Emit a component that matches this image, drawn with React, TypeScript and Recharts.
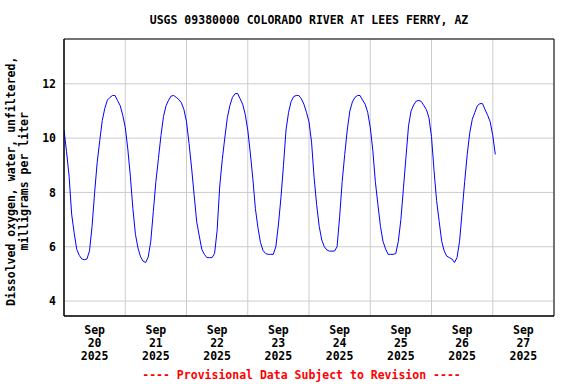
import React from 'react';
import { LineChart, Line, XAxis, YAxis, CartesianGrid, ReferenceArea } from 'recharts';

// Hourly dissolved oxygen values (mg/L), one array per day, starting at 00:00
const sep20 = [10.3, 9.5, 8.6, 7.2, 6.5, 5.9, 5.68, 5.55, 5.52, 5.55, 5.85, 6.75, 8.0, 9.1, 9.9, 10.65, 11.1, 11.4, 11.5, 11.57, 11.57, 11.38, 11.2, 10.85];
const sep21 = [10.4, 9.6, 8.6, 7.4, 6.45, 5.95, 5.63, 5.47, 5.42, 5.62, 6.2, 7.3, 8.4, 9.25, 10.1, 10.8, 11.2, 11.4, 11.55, 11.57, 11.5, 11.42, 11.3, 11.05];
const sep22 = [10.6, 9.8, 8.9, 7.9, 6.92, 6.4, 5.9, 5.72, 5.6, 5.6, 5.6, 5.75, 6.6, 8.2, 9.2, 10.0, 10.75, 11.2, 11.5, 11.63, 11.65, 11.45, 11.25, 10.88];
const sep23 = [10.3, 9.45, 8.5, 7.4, 6.7, 6.15, 5.86, 5.75, 5.72, 5.72, 5.72, 6.0, 6.8, 7.8, 9.0, 10.3, 10.95, 11.35, 11.53, 11.57, 11.57, 11.45, 11.25, 10.95];
const sep24 = [10.6, 9.85, 8.55, 7.55, 6.75, 6.25, 6.0, 5.88, 5.84, 5.84, 5.84, 6.0, 7.1, 8.4, 9.4, 10.3, 11.0, 11.33, 11.5, 11.57, 11.57, 11.4, 11.25, 10.95];
const sep25 = [10.4, 9.55, 8.4, 7.55, 6.75, 6.2, 5.92, 5.72, 5.72, 5.72, 5.75, 6.2, 7.0, 8.15, 9.3, 10.45, 11.0, 11.22, 11.36, 11.39, 11.35, 11.2, 11.05, 10.75];
const sep26 = [10.05, 8.8, 7.7, 6.94, 6.2, 5.84, 5.65, 5.6, 5.55, 5.42, 5.6, 6.2, 7.3, 8.4, 9.4, 10.2, 10.7, 10.95, 11.2, 11.27, 11.27, 11.05, 10.84, 10.6];
const sep27 = [10.1, 9.4];

const dailySeries = [sep20, sep21, sep22, sep23, sep24, sep25, sep26, sep27];
const dayLabels = ['20', '21', '22', '23', '24', '25', '26', '27'];
const monthLabel = 'Sep';
const yearLabel = '2025';
const yTicks = [4, 6, 8, 10, 12];
const yDomain = [3.45, 13.65];
const xDomain = [0, 192];

const labelTicks = dayLabels.map((_, i) => i * 24 + 12);
const midnightTicks = [0, 24, 48, 72, 96, 120, 144, 168, 192];

const data = dailySeries.flatMap((vals, d) => vals.map((v, i) => ({ hour: d * 24 + i, value: v })));

const FONT = '"DejaVu Sans Mono", "Liberation Mono", monospace';

const DateTick = (props: any) => {
  const { x, y, payload } = props;
  const idx = Math.round((payload.value - 12) / 24);
  return (
    <text x={x} y={y} textAnchor="middle" fontFamily={FONT} fontWeight="bold" fontSize={11.5} fill="#000">
      <tspan x={x} dy={18}>{monthLabel}</tspan>
      <tspan x={x} dy={13}>{dayLabels[idx]}</tspan>
      <tspan x={x} dy={13}>{yearLabel}</tspan>
    </text>
  );
};

export default function App() {
  return (
    <div style={{ position: 'absolute', left: 0, top: 0, width: 576, height: 384, background: '#fff' }}>
      <LineChart width={576} height={384} data={data} margin={{ top: 39, right: 22, bottom: 18, left: 4 }}>
        <XAxis xAxisId="grid" dataKey="hour" type="number" domain={xDomain} ticks={midnightTicks} hide />
        <CartesianGrid xAxisId="grid" stroke="#cccccc" strokeWidth={1} />
        <XAxis
          dataKey="hour"
          type="number"
          domain={xDomain}
          ticks={labelTicks}
          interval={0}
          tick={<DateTick />}
          tickLine={false}
          tickSize={0}
          tickMargin={0}
          height={50}
          axisLine={{ stroke: '#000' }}
          allowDataOverflow
        />
        <YAxis
          type="number"
          domain={yDomain}
          ticks={yTicks}
          interval={0}
          allowDataOverflow
          tickLine={false}
          tickSize={0}
          tickMargin={8}
          width={60}
          axisLine={{ stroke: '#000' }}
          tick={{ fontFamily: FONT, fontWeight: 'bold', fontSize: 11.5, fill: '#000' }}
        />
        <Line
          type="linear"
          dataKey="value"
          stroke="#0000ff"
          strokeWidth={1}
          dot={false}
          isAnimationActive={false}
        />
        <ReferenceArea
          x1={xDomain[0]}
          x2={xDomain[1]}
          y1={yDomain[0]}
          y2={yDomain[1]}
          fill="none"
          fillOpacity={0}
          stroke="#000"
          strokeWidth={1}
          ifOverflow="visible"
        />
      </LineChart>
      <div
        style={{
          position: 'absolute', left: 0, top: 13, width: 618, textAlign: 'center',
          fontFamily: FONT, fontWeight: 'bold', fontSize: 11.5, lineHeight: '14px', color: '#000',
          whiteSpace: 'nowrap',
        }}
      >
        USGS 09380000 COLORADO RIVER AT LEES FERRY, AZ
      </div>
      <div
        style={{
          position: 'absolute', left: 0, top: 368, width: 603, textAlign: 'center',
          fontFamily: FONT, fontWeight: 'bold', fontSize: 11.5, lineHeight: '14px', color: '#ff0000',
          whiteSpace: 'nowrap',
        }}
      >
        ---- Provisional Data Subject to Revision ----
      </div>
      <div
        style={{
          position: 'absolute', left: 18.4 - 160, top: 181 - 13.3, width: 320, height: 26.6,
          textAlign: 'center', transform: 'rotate(-90deg)', transformOrigin: '50% 50%',
          fontFamily: FONT, fontWeight: 'bold', fontSize: 11.5, lineHeight: '13.3px', color: '#000',
          whiteSpace: 'nowrap',
        }}
      >
        <div>Dissolved oxygen, water, unfiltered,</div>
        <div>milligrams per liter</div>
      </div>
    </div>
  );
}
